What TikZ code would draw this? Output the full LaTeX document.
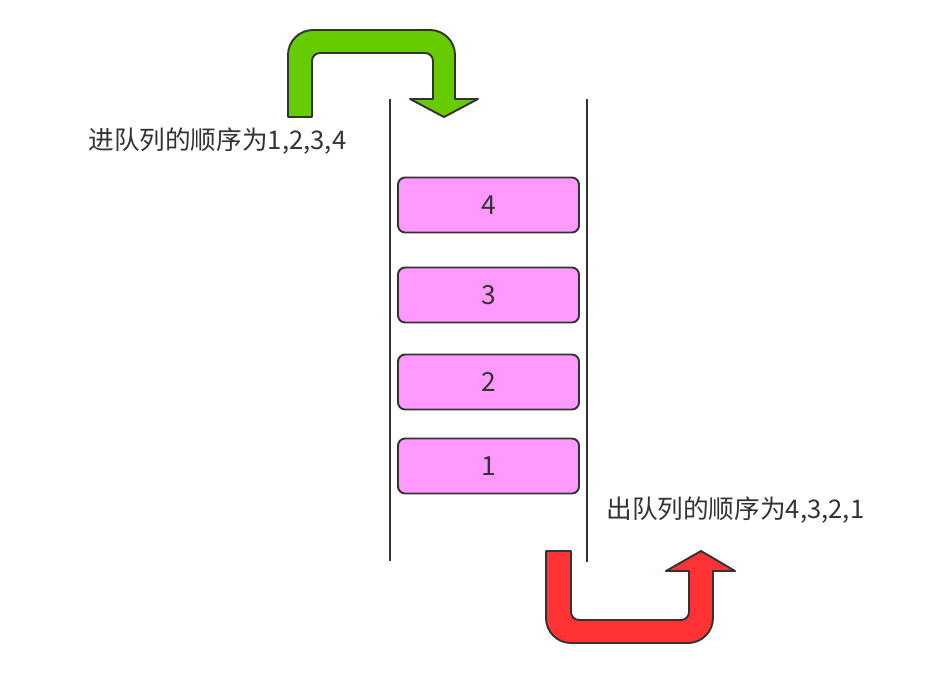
\documentclass[tikz,border=0pt]{standalone}
\usepackage{fontspec}
\setmainfont{Noto Sans CJK SC}
\usetikzlibrary{positioning}
\definecolor{Ink}{HTML}{333333}
\definecolor{Pink}{HTML}{FF99FF}
\definecolor{Green}{HTML}{66CC00}
\definecolor{Red}{HTML}{FF3333}
\tikzset{slot/.style={rounded corners=4pt,draw=Ink,fill=Pink,line width=1.1pt,minimum width=3.62cm,minimum height=1.1cm,text=Ink,font=\fontsize{15pt}{17pt}\selectfont},wall/.style={draw=Ink,line width=.9pt},turn/.style={draw=Ink,line width=1.1pt,line join=round},caption/.style={anchor=west,text=Ink,inner sep=0pt,font=\fontsize{14.6pt}{17pt}\selectfont}}

\begin{document}
\begin{tikzpicture}[x=.02cm,y=-.02cm]
      \useasboundingbox (0,0) rectangle (941,673);
      \coordinate (lt) at (390,99);\coordinate (lb) at (390,561);
      \coordinate (rt) at (587,99);\coordinate (rb) at (587,562);
      \draw[wall](lt)--(lb);\draw[wall](rt)--(rb);
      \node[slot](q4) at (488.5,205){4};
      \node[slot](q3) at (488.5,295){3};
      \node[slot](q2) at (488.5,382){2};
      \node[slot](q1) at (488.5,466){1};
      \node[caption](in) at (88,141){进队列的顺序为1,2,3,4};
      \node[caption](out) at (606,510){出队列的顺序为4,3,2,1};
      % enqueue arrow
      \draw[turn,fill=Green](288,117)--(288,55)arc[start angle=180,end angle=270,radius=25]--(430,30)
        arc[start angle=270,end angle=360,radius=25]--(455,99)--(478,99)--(444,117)--(410,99)--(433,99)--(433,61)
        arc[start angle=0,end angle=-90,radius=8]--(320,53)arc[start angle=270,end angle=180,radius=8]--(312,117)--cycle;
      % dequeue arrow
      \draw[turn,fill=Red](546,551)--(546,618)arc[start angle=180,end angle=90,radius=25]--(688,643)
        arc[start angle=90,end angle=0,radius=25]--(713,571)--(735,571)--(701,551)--(666,571)--(689,571)--(689,612)
        arc[start angle=0,end angle=90,radius=8]--(579,620)arc[start angle=90,end angle=180,radius=8]--(571,551)--cycle;
    \end{tikzpicture}
\end{document}
